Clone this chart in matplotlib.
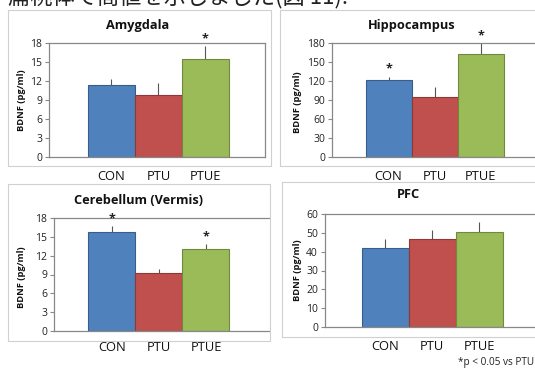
import numpy as np
import matplotlib
matplotlib.use('Agg')
import matplotlib.pyplot as plt
from matplotlib.patches import Rectangle

plt.rcParams['font.family'] = ['Open Sans', 'DejaVu Sans']

#################Input values#############################################
groups = ['CON', 'PTU', 'PTUE']
colors = ['#4F81BD', '#C0504D', '#9BBB59']
edges = ['#385D8A', '#8C3836', '#71893F']

amyg_mean = [11.3, 9.8, 15.5]
amyg_err = [1.0, 1.9, 2.0]
amyg_star = [False, False, True]

hippo_mean = [122, 94, 163]
hippo_err = [5, 17, 17]
hippo_star = [True, False, True]

cereb_mean = [15.8, 9.2, 13.1]
cereb_err = [0.9, 0.6, 0.7]
cereb_star = [True, False, True]

pfc_mean = [42.2, 46.9, 50.2]
pfc_err = [4.6, 4.7, 5.8]
pfc_star = [False, False, False]

W, H = 535, 374
fig = plt.figure(figsize=(W / 100, H / 100), dpi=100)


def px_rect(x0, y0, x1, y1):
    return [x0 / W, 1 - y1 / H, (x1 - x0) / W, (y1 - y0) / H]


def frame(x0, y0, x1, y1):
    fig.patches.append(Rectangle((x0 / W, 1 - y1 / H), (x1 - x0) / W, (y1 - y0) / H,
                                 transform=fig.transFigure, fill=False,
                                 edgecolor='#d0d0d0', linewidth=0.8))


def panel(rect, xlim, mean, err, star, ymax, step, title, title_xy, ylab_xy,
          pad=8, right=True, ylabel='BDNF (pg/ml)'):
    ax = fig.add_axes(px_rect(*rect))
    x = np.arange(len(groups))
    ax.bar(x, mean, width=1.0, color=colors, edgecolor=edges, linewidth=0.8, zorder=2)
    ax.errorbar(x, mean, yerr=[np.zeros(3), err], fmt='none', ecolor='#555555',
                elinewidth=0.8, capsize=0, zorder=1)
    for i in range(3):
        if star[i]:
            ax.text(x[i], mean[i] + err[i] + ymax * 0.01, '*', ha='center', va='bottom',
                    fontsize=9, fontweight='bold', color='#222222')
    ax.set_xlim(*xlim)
    ax.set_ylim(0, ymax)
    ax.set_yticks(np.arange(0, ymax + 0.1, step))
    ax.set_xticks(x)
    ax.set_xticklabels(groups, fontsize=9.3, color='#111111')
    ax.tick_params(axis='x', length=0, pad=pad)
    ax.tick_params(axis='y', length=3, width=0.8, labelsize=7.5, color='#888888', pad=2,
                   labelcolor='#222222')
    for s in ['left', 'bottom', 'top', 'right']:
        ax.spines[s].set_color('#888888')
        ax.spines[s].set_linewidth(0.9)
    ax.spines['right'].set_visible(right)
    fig.text(title_xy[0] / W, 1 - title_xy[1] / H, title, ha='center', va='center',
             fontsize=9.2, fontweight='bold', color='#111111')
    fig.text(ylab_xy[0] / W, 1 - ylab_xy[1] / H, ylabel, ha='center', va='center',
             rotation=90, fontsize=6.7, fontweight='bold', color='#111111')
    return ax


# top strip of japanese text (cut off at top)
fig.text(8 / W, 1 - 3 / H, '扁桃体で高値を示しました(図 11).', ha='left', va='baseline',
         fontsize=16, family=['Noto Sans CJK JP', 'DejaVu Sans'], color='#222222')

frame(8, 10, 271, 166)
frame(280, 10, 545, 166)
frame(8, 184, 270, 341)
frame(282, 182, 545, 337)

panel((49, 43, 265, 157), (-1.33, 3.27), amyg_mean, amyg_err, amyg_star, 18, 3,
      'Amygdala', (138, 25), (22, 100), pad=9)
panel((332, 43, 545, 157), (-1.23, 3.4), hippo_mean, hippo_err, hippo_star, 180, 30,
      'Hippocampus', (412, 25), (297, 102), pad=9)
panel((54, 218, 269, 331), (-1.23, 3.34), cereb_mean, cereb_err, cereb_star, 18, 3,
      'Cerebellum (Vermis)', (138, 200), (22, 277), pad=7, right=False)
panel((325, 214, 545, 327), (-1.28, 3.4), pfc_mean, pfc_err, pfc_star, 60, 10,
      'PFC', (408, 195), (297, 270), pad=9)

fig.text(534 / W, 1 - 363 / H, '*p < 0.05 vs PTU', ha='right', va='center',
         fontsize=7.2, color='#222222')

plt.savefig('out.png', dpi=100)
